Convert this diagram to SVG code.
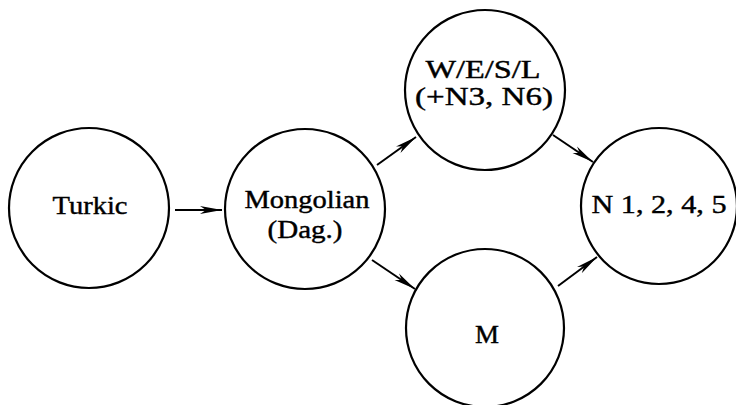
<svg xmlns="http://www.w3.org/2000/svg" width="736" height="405" viewBox="0 0 736 405">
<defs>
<style>
.node circle{fill:none;stroke:#000;stroke-width:2.2}
.node text{font-family:"Liberation Serif","DejaVu Serif",serif;font-size:25px;fill:#000;stroke:#000;stroke-width:0.4;text-anchor:middle}
.edge{stroke:#000;stroke-width:2;fill:none;marker-end:url(#ah)}
</style>
<marker id="ah" markerWidth="22" markerHeight="10" refX="22" refY="5" orient="auto" markerUnits="userSpaceOnUse" viewBox="0 0 22 10">
<path d="M0,1 L22,5 L0,9 L6,5 Z" fill="#000"/>
</marker>
</defs>
<rect width="736" height="405" fill="#fff"/>
<g id="connectors">
<line class="edge" x1="175" y1="210" x2="222" y2="210"/>
<line class="edge" x1="377" y1="165" x2="416" y2="137"/>
<line class="edge" x1="553" y1="135" x2="593" y2="162"/>
<line class="edge" x1="372" y1="260" x2="415" y2="289"/>
<line class="edge" x1="558" y1="286" x2="597" y2="257"/>
</g>
<g id="turkic" class="node">
<circle cx="89" cy="208" r="80"/>
<text x="90" y="214" textLength="75" lengthAdjust="spacingAndGlyphs">Turkic</text>
</g>
<g id="mongolian" class="node">
<circle cx="305" cy="209" r="80"/>
<text x="307" y="208" textLength="125" lengthAdjust="spacingAndGlyphs">Mongolian</text>
<text x="305" y="238" textLength="75" lengthAdjust="spacingAndGlyphs">(Dag.)</text>
</g>
<g id="wesl" class="node">
<circle cx="485" cy="90" r="80"/>
<text x="483" y="78" textLength="115" lengthAdjust="spacingAndGlyphs">W/E/S/L</text>
<text x="484" y="105" textLength="138" lengthAdjust="spacingAndGlyphs">(+N3, N6)</text>
</g>
<g id="n1245" class="node">
<circle cx="659" cy="206" r="78"/>
<text x="659" y="213" textLength="135" lengthAdjust="spacingAndGlyphs">N 1, 2, 4, 5</text>
</g>
<g id="m" class="node">
<circle cx="485" cy="328" r="79"/>
<text x="487" y="343" textLength="24" lengthAdjust="spacingAndGlyphs">M</text>
</g>
</svg>
